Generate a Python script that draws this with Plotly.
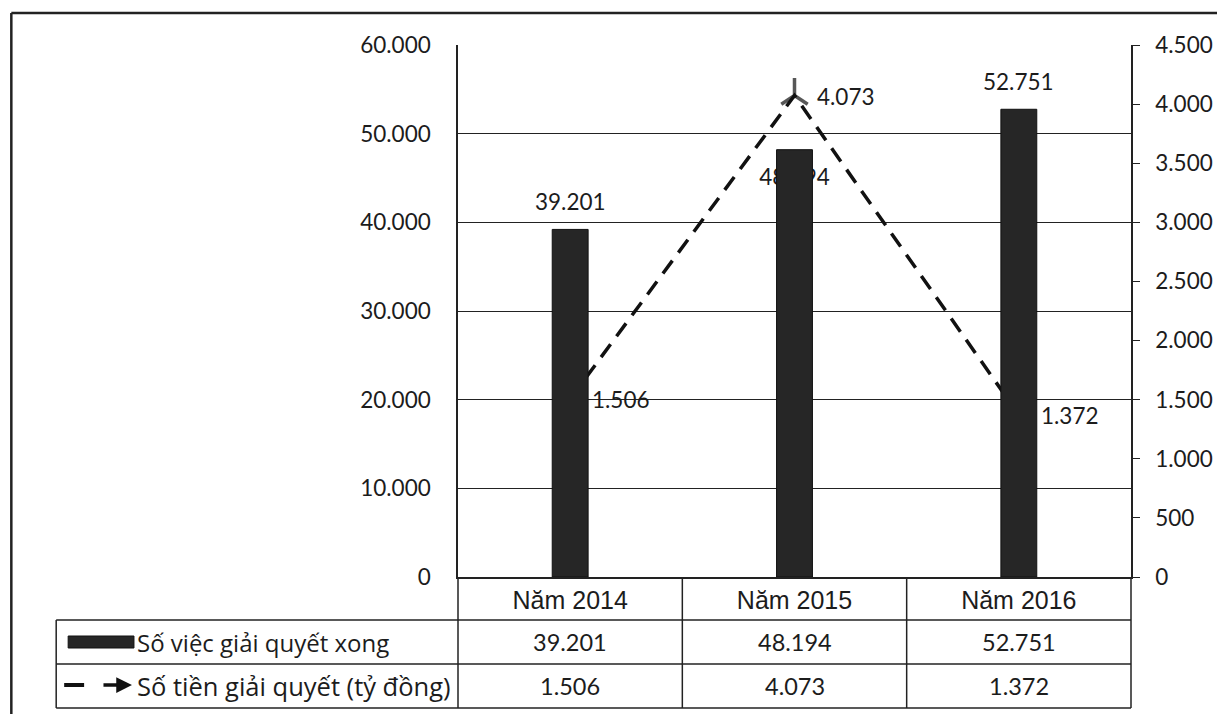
import plotly.graph_objects as go

# ---- data ----
categories = ["Năm 2014", "Năm 2015", "Năm 2016"]
so_viec = [39201, 48194, 52751]          # Số việc giải quyết xong (left axis)
so_tien = [1506, 4073, 1372]             # Số tiền giải quyết (tỷ đồng) (right axis)
series_names = ["Số việc giải quyết xong", "Số tiền giải quyết (tỷ đồng)"]
left_ticks = [0, 10000, 20000, 30000, 40000, 50000, 60000]
right_ticks = [0, 500, 1000, 1500, 2000, 2500, 3000, 3500, 4000, 4500]

# ---- layout geometry (page pixels; the page body has an 8px margin) ----
OFF = 8
W, H = 1225 - OFF, 714 - OFF
L, R, T, B = 458, 1133, 45, 577          # plot area in page pixels
PW, PH = R - L, B - T


def px(x):
    return (x - L) / PW


def py(y):
    return (B - y) / PH


def fmt(v):
    return f"{v:,}".replace(",", ".")


NUM_FONT = "Lato, 'Open Sans', sans-serif"
LBL_FONT = "'Open Sans', Lato, sans-serif"
HDR_FONT = "'Liberation Sans', Arial, sans-serif"
INK = "#1c1c1c"
NUM_SIZE = 22.5

xs = list(range(len(categories)))

fig = go.Figure()

# line (base subplot, right axis)
fig.add_trace(go.Scatter(
    x=xs, y=so_tien, xaxis="x", yaxis="y", mode="lines+markers",
    name=series_names[1],
    line=dict(color="#111111", width=3.5, dash="16px,10px"),
    marker=dict(symbol=["circle", "y-up", "circle"],
                size=[0, 22, 0],
                line=dict(color="#111111", width=3.5), color="#111111"),
    showlegend=False, hoverinfo="skip",
))

# bar label for 2015, drawn beneath the bar (partly hidden as in the original)
fig.add_trace(go.Scatter(
    x=[xs[1]], y=[so_viec[1]], xaxis="x", yaxis="y2", mode="text",
    text=[" <br> <br>" + fmt(so_viec[1])], textposition="middle center",
    textfont=dict(family=NUM_FONT, size=NUM_SIZE, color=INK),
    showlegend=False, hoverinfo="skip",
))

# bars (top overlay, left axis)
fig.add_trace(go.Bar(
    x=xs, y=so_viec, xaxis="x", yaxis="y3", name=series_names[0],
    width=0.16, marker=dict(color="#262626", line=dict(color="#111111", width=1)),
    showlegend=False, hoverinfo="skip",
))

annotations = []
for i, v in enumerate(so_viec):
    if i == 1:
        continue
    annotations.append(dict(x=xs[i], y=v, xref="x", yref="y3", text=fmt(v),
                            showarrow=False, yanchor="middle", yshift=28,
                            font=dict(family=NUM_FONT, size=NUM_SIZE, color=INK)))
for i, v in enumerate(so_tien):
    annotations.append(dict(x=xs[i], y=v, xref="x", yref="y", text=fmt(v),
                            showarrow=False, xanchor="left", yanchor="middle",
                            xshift=20, yshift=-1,
                            font=dict(family=NUM_FONT, size=NUM_SIZE, color=INK)))

# data table
row_y = [py(642), py(686)]
for r, vals in enumerate([so_viec, so_tien]):
    for i, v in enumerate(vals):
        annotations.append(dict(x=xs[i], y=row_y[r], xref="x", yref="paper",
                                text=fmt(v), showarrow=False,
                                xanchor="center", yanchor="middle",
                                font=dict(family=NUM_FONT, size=23.5, color=INK)))
    annotations.append(dict(x=px(134), y=row_y[r], xref="paper", yref="paper",
                            text=series_names[r], showarrow=False,
                            xanchor="left", yanchor="middle",
                            font=dict(family=LBL_FONT, size=[24, 25.5][r], color=INK)))

annotations.append(dict(x=px(131), y=py(685), xref="paper", yref="paper",
                        ax=-30, ay=0, text="", showarrow=True, arrowhead=2,
                        arrowsize=0.9, arrowwidth=3.5, arrowcolor="#111111"))

shapes = []
LC = "#222222"
shapes.append(dict(type="line", xref="paper", yref="paper", x0=px(10), x1=px(1240),
                   y0=py(13), y1=py(13), line=dict(color=LC, width=2.5)))
shapes.append(dict(type="line", xref="paper", yref="paper", x0=px(10), x1=px(10),
                   y0=py(13), y1=py(730), line=dict(color=LC, width=2.5)))
for yy in [620, 664, 708]:
    shapes.append(dict(type="line", xref="paper", yref="paper", x0=px(55), x1=px(R),
                       y0=py(yy), y1=py(yy), line=dict(color=LC, width=1.5)))
shapes.append(dict(type="line", xref="paper", yref="paper", x0=px(55), x1=px(55),
                   y0=py(620), y1=py(708), line=dict(color=LC, width=1.5)))
for xx in [L, R]:
    shapes.append(dict(type="line", xref="paper", yref="paper", x0=px(xx), x1=px(xx),
                       y0=py(B), y1=py(708), line=dict(color=LC, width=1.5)))
for b in [0.5, 1.5]:
    shapes.append(dict(type="line", xref="x", yref="paper", x0=b, x1=b,
                       y0=py(B), y1=py(708), line=dict(color=LC, width=1.5)))
shapes.append(dict(type="rect", xref="paper", yref="paper", x0=px(67), x1=px(133),
                   y0=py(648), y1=py(636), fillcolor="#262626",
                   line=dict(color="#111111", width=1)))
shapes.append(dict(type="line", xref="paper", yref="paper", x0=px(63), x1=px(83),
                   y0=py(685), y1=py(685), line=dict(color="#111111", width=4)))

fig.update_layout(
    width=W, height=H,
    margin=dict(l=L - OFF, r=W - (R - OFF), t=T - OFF, b=H - (B - OFF), pad=0),
    paper_bgcolor="white", plot_bgcolor="white",
    separators=",.",
    showlegend=False,
    xaxis=dict(range=[-0.5, 2.5], tickmode="array", tickvals=xs, ticktext=categories,
               showgrid=False, zeroline=False, showline=True, linecolor=LC, linewidth=1.5,
               ticks="", ticklabelstandoff=0,
               tickfont=dict(family=HDR_FONT, size=25, color=INK)),
    yaxis=dict(range=[0, 4500], side="right", tickmode="array", tickvals=right_ticks,
               tickformat=",d", showgrid=False, zeroline=False,
               showline=True, linecolor=LC, linewidth=1.5,
               ticks="outside", ticklen=7, tickcolor=LC, ticklabelstandoff=11,
               tickfont=dict(family=NUM_FONT, size=NUM_SIZE, color=INK)),
    yaxis2=dict(range=[0, 60000], overlaying="y", visible=False),
    yaxis3=dict(range=[0, 60000], overlaying="y", side="left", tickmode="array",
                tickvals=left_ticks, tickformat=",d",
                showgrid=True, gridcolor=LC, gridwidth=1.2, zeroline=False,
                showline=True, linecolor=LC, linewidth=1.5,
                ticks="", ticklabelstandoff=21,
                tickfont=dict(family=NUM_FONT, size=NUM_SIZE, color=INK)),
    annotations=annotations,
    shapes=shapes,
)

fig.write_html("out.html")
